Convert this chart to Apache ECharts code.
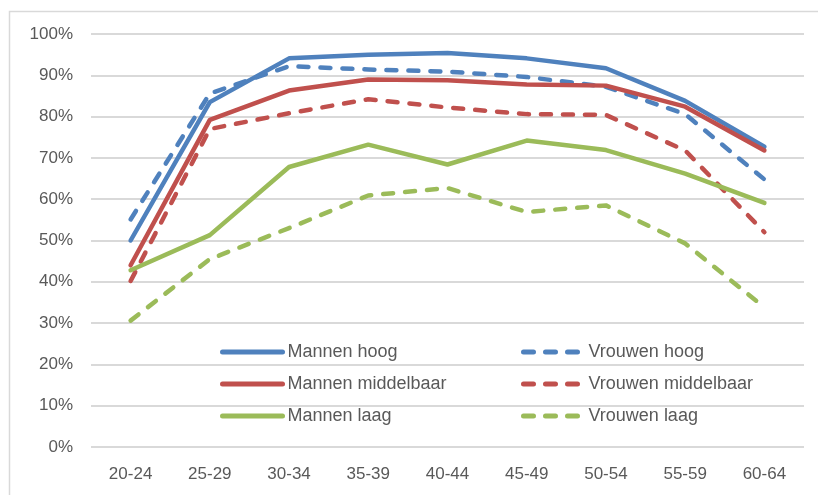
<!DOCTYPE html>
<html>
<head>
<meta charset="utf-8">
<script src="https://cdn.jsdelivr.net/npm/echarts@6/dist/echarts.min.js"></script>
<style>
html,body{margin:0;padding:0;background:#fff;}
#chart{width:818px;height:495px;}
</style>
</head>
<body>
<div id="chart"></div>
<script>
const categories = ['20-24','25-29','30-34','35-39','40-44','45-49','50-54','55-59','60-64'];
const mannenHoog = [50.0, 83.5, 94.1, 95.0, 95.4, 94.1, 91.7, 83.8, 72.7];
const vrouwenHoog = [55.1, 85.6, 92.2, 91.4, 90.9, 89.6, 87.2, 80.6, 64.8];
const mannenMiddelbaar = [44.0, 79.2, 86.3, 89.0, 88.8, 87.8, 87.5, 82.4, 71.8];
const vrouwenMiddelbaar = [40.2, 77.0, 80.8, 84.2, 82.2, 80.6, 80.4, 71.8, 52.0];
const mannenLaag = [42.8, 51.3, 67.8, 73.2, 68.4, 74.2, 71.9, 66.2, 59.1];
const vrouwenLaag = [30.6, 45.5, 53.0, 60.9, 62.7, 56.9, 58.5, 49.3, 33.8];

const FONT = 'Liberation Sans';
const BLUE = '#4F81BD', RED = '#C0504D', GREEN = '#9BBB59';

function mk(name, data, color, dashed) {
  return {
    name: name, type: 'line', data: data, symbol: 'none', showSymbol: false, smooth: false,
    lineStyle: { color: color, width: 4.5, type: dashed ? [10, 12] : 'solid', cap: 'round', join: 'round' },
    itemStyle: { color: color },
    emphasis: { disabled: true }
  };
}

const legendBase = {
  orient: 'vertical', top: 343, padding: 0, itemWidth: 60, itemHeight: 14, itemGap: 14,
  itemStyle: { opacity: 0 },
  lineStyle: { width: 5, cap: 'round' },
  textStyle: { color: '#595959', fontFamily: FONT, fontSize: 18 }
};

const chart = echarts.init(document.getElementById('chart'));
chart.setOption({
  animation: false,
  backgroundColor: '#fff',
  graphic: [{
    type: 'rect', left: 7, top: 9, silent: true,
    shape: { x: 0, y: 0, width: 840, height: 520 },
    style: { fill: 'none', stroke: '#D9D9D9', lineWidth: 1.5 }
  }],
  grid: { left: 91, right: 14, top: 34, bottom: 48, containLabel: false },
  xAxis: {
    type: 'category', data: categories, boundaryGap: true,
    axisLine: { show: false }, axisTick: { show: false },
    axisLabel: { color: '#595959', fontFamily: FONT, fontSize: 17, margin: 19 }
  },
  yAxis: {
    type: 'value', min: 0, max: 100, interval: 10,
    axisLine: { show: false }, axisTick: { show: false },
    axisLabel: { color: '#595959', fontFamily: FONT, fontSize: 17, margin: 18, formatter: '{value}%' },
    splitLine: { lineStyle: { color: '#D9D9D9', width: 2 } }
  },
  legend: [
    Object.assign({}, legendBase, { left: 220, data: ['Mannen hoog', 'Mannen middelbaar', 'Mannen laag'] }),
    Object.assign({}, legendBase, { left: 521, data: ['Vrouwen hoog', 'Vrouwen middelbaar', 'Vrouwen laag'] })
  ],
  series: [
    mk('Mannen hoog', mannenHoog, BLUE, false),
    mk('Vrouwen hoog', vrouwenHoog, BLUE, true),
    mk('Mannen middelbaar', mannenMiddelbaar, RED, false),
    mk('Vrouwen middelbaar', vrouwenMiddelbaar, RED, true),
    mk('Mannen laag', mannenLaag, GREEN, false),
    mk('Vrouwen laag', vrouwenLaag, GREEN, true)
  ]
});
</script>
</body>
</html>
